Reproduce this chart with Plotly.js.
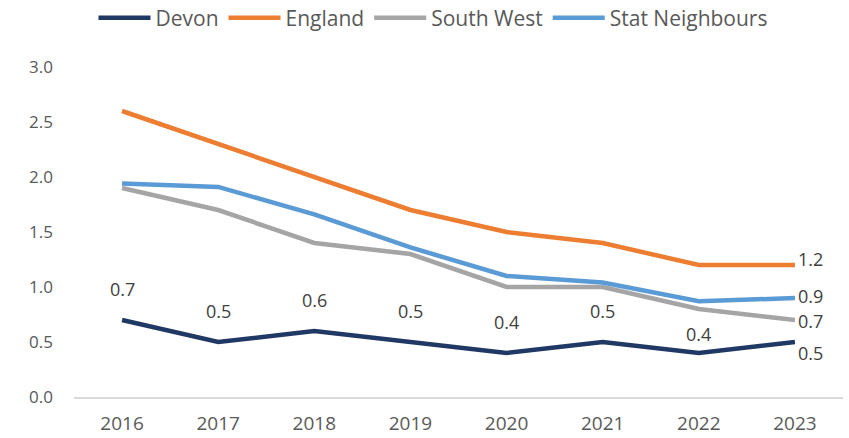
<!DOCTYPE html>
<html>
<head>
<meta charset="utf-8">
<script src="https://cdn.plot.ly/plotly-3.0.1.min.js"></script>
<style>html,body{margin:0;padding:0;background:#fff;}#chart{width:849px;height:438px;}</style>
</head>
<body>
<div id="chart"></div>
<script>
var years = ['2016','2017','2018','2019','2020','2021','2022','2023'];
var devon = [0.7, 0.5, 0.6, 0.5, 0.4, 0.5, 0.4, 0.5];
var england = [2.6, 2.3, 2.0, 1.7, 1.5, 1.4, 1.2, 1.2];
var southWest = [1.9, 1.7, 1.4, 1.3, 1.0, 1.0, 0.8, 0.7];
var statNeighbours = [1.94, 1.91, 1.66, 1.36, 1.1, 1.04, 0.87, 0.9];
var yTicks = [0, 0.5, 1.0, 1.5, 2.0, 2.5, 3.0];

var FONT = 'Open Sans, Liberation Sans, sans-serif';
var TXT = '#595959';

function tr(name, y, color) {
  return {x: years, y: y, name: name, type: 'scatter', mode: 'lines',
    line: {color: color, width: 4.5}, hoverinfo: 'skip'};
}
var data = [
  tr('Devon', devon, '#203864'),
  tr('England', england, '#ED7D31'),
  tr('South West', southWest, '#A5A5A5'),
  tr('Stat Neighbours', statNeighbours, '#5B9BD5')
];

function fmt(v){ return v.toFixed(1); }
var annotations = [];
var devonShift = [31, 31, 31, 31, 31, 31, 19];
for (var i = 0; i < years.length - 1; i++) {
  annotations.push({x: i, y: devon[i], text: fmt(devon[i]), showarrow: false,
    xanchor: 'center', yanchor: 'middle', yshift: devonShift[i]});
}
var last = years.length - 1;
var endLabels = [[devon, -11], [england, 6], [southWest, -1], [statNeighbours, 2]];
endLabels.forEach(function(e){
  annotations.push({x: last, y: e[0][last], text: fmt(e[0][last]), showarrow: false,
    xanchor: 'left', yanchor: 'middle', xshift: 1, yshift: e[1]});
});
annotations.forEach(function(a){ a.xref = 'x'; a.yref = 'y'; a.font = {family: FONT, size: 18, color: '#404040'}; });

var layout = {
  width: 849, height: 438,
  margin: {l: 74, r: 6, t: 67, b: 41, autoexpand: false},
  paper_bgcolor: '#fff', plot_bgcolor: '#fff',
  font: {family: FONT, color: TXT},
  showlegend: true,
  legend: {orientation: 'h', x: 0.51, xanchor: 'center', xref: 'container',
    y: 1 + (67 - 18) / 330, yref: 'paper', yanchor: 'middle',
    font: {family: FONT, size: 21, color: TXT}, traceorder: 'normal', itemwidth: 52},
  xaxis: {type: 'category', range: [-0.5, 7.5], showgrid: false, zeroline: false,
    showline: true, linecolor: '#d9d9d9', linewidth: 1.5, ticks: '',
    tickfont: {family: FONT, size: 19, color: TXT}, ticklabelstandoff: 9, fixedrange: true},
  yaxis: {range: [0, 3], tickvals: yTicks, tickformat: '.1f', showgrid: false,
    zeroline: false, showline: false, ticks: '',
    tickfont: {family: FONT, size: 17, color: TXT}, ticklabelstandoff: 20, fixedrange: true},
  annotations: annotations
};
Plotly.newPlot('chart', data, layout, {displayModeBar: false, staticPlot: true});
</script>
</body>
</html>
